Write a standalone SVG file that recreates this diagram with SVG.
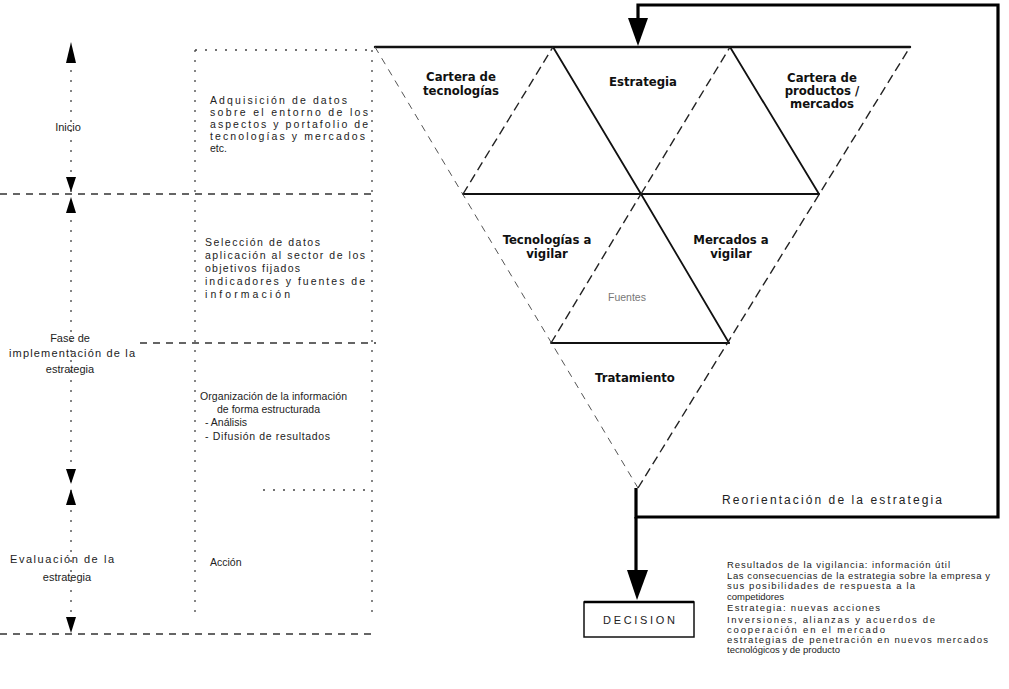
<svg xmlns="http://www.w3.org/2000/svg" width="1009" height="689" viewBox="0 0 1009 689">
  <style>
    .lbl { font-family: "Liberation Sans Narrow", "DejaVu Sans Condensed", "Liberation Sans", sans-serif; font-size: 13px; font-weight: bold; fill: #111; text-anchor: middle; }
    .side { font-family: "Liberation Sans", "DejaVu Sans", sans-serif; font-size: 11px; fill: #222; text-anchor: middle; }
    .note { font-family: "Liberation Sans", "DejaVu Sans", sans-serif; font-size: 10.5px; fill: #222; }
    .small { font-family: "Liberation Sans", "DejaVu Sans", sans-serif; font-size: 9.5px; fill: #222; }
    .solid { stroke: #111; stroke-width: 1.8; fill: none; stroke-linecap: round; }
    .edge { stroke: #111; stroke-width: 2.4; fill: none; stroke-linecap: round; }
    .dash { stroke: #222; stroke-width: 1.4; fill: none; stroke-dasharray: 9 5; }
    .faint { stroke: #555; stroke-width: 1; fill: none; stroke-dasharray: 7 6; }
    .dot { stroke: #444; stroke-width: 1.3; fill: none; stroke-dasharray: 2 8; }
    .sep { stroke: #333; stroke-width: 1.6; fill: none; stroke-dasharray: 7 6; }
    .thick { stroke: #000; stroke-width: 3.2; fill: none; stroke-linejoin: miter; }
    .head { fill: #000; }
  </style>

  <!-- left timeline: phase separators and frames -->
  <g id="phase-frames">
    <line class="sep" x1="0" y1="194" x2="376" y2="194"/>
    <line class="sep" x1="140" y1="343" x2="376" y2="343"/>
    <line class="sep" x1="0" y1="634" x2="376" y2="634"/>
    <line class="dot" x1="195" y1="50" x2="372" y2="50"/>
    <line class="dot" x1="195" y1="50" x2="195" y2="615"/>
    <line class="dot" x1="372" y1="50" x2="372" y2="620"/>
    <line class="dot" x1="263" y1="490" x2="370" y2="490"/>
  </g>

  <!-- left axis with phase arrowheads -->
  <g id="phase-axis">
    <line class="dot" x1="71" y1="60" x2="71" y2="630"/>
    <polygon class="head" points="71,42 66,63 76,63"/>
    <polygon class="head" points="71,192 66,177 76,177"/>
    <polygon class="head" points="71,197 66,213 76,213"/>
    <polygon class="head" points="71,484 66,469 76,469"/>
    <polygon class="head" points="71,489 66,505 76,505"/>
    <polygon class="head" points="71,633 66,617 76,617"/>
  </g>

  <g id="phase-1">
    <text class="side" x="68" y="131">Inicio</text>
  </g>
  <g id="phase-2">
    <text class="side" x="70" y="342">Fase de</text>
    <text class="side" x="72" y="357" textLength="126" lengthAdjust="spacing">implementación de la</text>
    <text class="side" x="70" y="373">estrategia</text>
  </g>
  <g id="phase-3">
    <text class="side" x="62" y="563" textLength="104" lengthAdjust="spacing">Evaluación de la</text>
    <text class="side" x="67" y="581">estrategia</text>
  </g>

  <g id="step-1">
    <text class="note" x="210" y="104" textLength="137" lengthAdjust="spacing">Adquisición de datos</text>
    <text class="note" x="210" y="116" textLength="158" lengthAdjust="spacing">sobre el entorno de los</text>
    <text class="note" x="210" y="128" textLength="158" lengthAdjust="spacing">aspectos y portafolio de</text>
    <text class="note" x="210" y="140" textLength="155" lengthAdjust="spacing">tecnologías y mercados</text>
    <text class="note" x="210" y="152">etc.</text>
  </g>
  <g id="step-2">
    <text class="note" x="205" y="246" textLength="115" lengthAdjust="spacing">Selección de datos</text>
    <text class="note" x="205" y="259" textLength="160" lengthAdjust="spacing">aplicación al sector de los</text>
    <text class="note" x="205" y="272" textLength="95" lengthAdjust="spacing">objetivos fijados</text>
    <text class="note" x="205" y="285" textLength="160" lengthAdjust="spacing">indicadores y fuentes de</text>
    <text class="note" x="205" y="298" textLength="85" lengthAdjust="spacing">información</text>
  </g>
  <g id="step-3">
    <text class="note" x="200" y="400" textLength="147" lengthAdjust="spacing">Organización de la información</text>
    <text class="note" x="217" y="413" textLength="103" lengthAdjust="spacing">de forma estructurada</text>
    <text class="note" x="205" y="426">- Análisis</text>
    <text class="note" x="205" y="440" textLength="125" lengthAdjust="spacing">- Difusión de resultados</text>
  </g>
  <g id="step-4">
    <text class="note" x="210" y="566">Acción</text>
  </g>

  <!-- inverted triangle of nine cells -->
  <g id="triangle-grid">
    <!-- horizontal rows -->
    <line class="edge" x1="375" y1="47" x2="910" y2="47"/>
    <line class="solid" x1="463" y1="194" x2="819" y2="194"/>
    <line class="solid" x1="551" y1="343" x2="729" y2="343"/>
    <!-- falling edges -->
    <line class="faint" x1="375" y1="47" x2="638" y2="488"/>
    <line class="solid" x1="553" y1="47" x2="641" y2="194"/>
    <line class="solid" x1="730" y1="47" x2="819" y2="194"/>
    <line class="solid" x1="641" y1="194" x2="729" y2="343"/>
    <!-- rising edges -->
    <line class="dash" x1="463" y1="194" x2="553" y2="47"/>
    <line class="dash" x1="641" y1="194" x2="730" y2="47"/>
    <line class="dash" x1="638" y1="488" x2="910" y2="47"/>
    <line class="dash" x1="551" y1="343" x2="641" y2="194"/>
  </g>

  <g id="cell-cartera-tecnologias">
    <text class="lbl" x="461" y="81">Cartera de</text>
    <text class="lbl" x="461" y="95">tecnologías</text>
  </g>
  <g id="cell-estrategia">
    <text class="lbl" x="643" y="86">Estrategia</text>
  </g>
  <g id="cell-cartera-productos">
    <text class="lbl" x="822" y="82">Cartera de</text>
    <text class="lbl" x="822" y="95">productos /</text>
    <text class="lbl" x="822" y="108">mercados</text>
  </g>
  <g id="cell-tecnologias-vigilar">
    <text class="lbl" x="547" y="244">Tecnologías a</text>
    <text class="lbl" x="547" y="258">vigilar</text>
  </g>
  <g id="cell-mercados-vigilar">
    <text class="lbl" x="731" y="244">Mercados a</text>
    <text class="lbl" x="731" y="258">vigilar</text>
  </g>
  <g id="cell-fuentes">
    <text class="note" x="627" y="301" text-anchor="middle" style="fill:#777">Fuentes</text>
  </g>
  <g id="cell-tratamiento">
    <text class="lbl" x="635" y="382">Tratamiento</text>
  </g>

  <!-- feedback loop and decision flow -->
  <g id="connectors">
    <polyline class="thick" points="636,488 636,517 998,517 998,5 638,5 638,20"/>
    <polygon class="head" points="638,46 628,18 648,18"/>
    <line class="thick" x1="636" y1="517" x2="636" y2="572"/>
    <polygon class="head" points="637,600 627,570 648,570"/>
  </g>

  <g id="feedback-label">
    <text class="side" x="832" y="504" textLength="220" lengthAdjust="spacing" style="font-size:12px">Reorientación de la estrategia</text>
  </g>

  <g id="decision">
    <rect x="584" y="602" width="110" height="35" fill="#fff" stroke="#111" stroke-width="1.5"/>
    <line x1="584" y1="602" x2="694" y2="602" stroke="#000" stroke-width="2.5"/>
    <text class="side" x="639" y="624" textLength="72" lengthAdjust="spacing">DECISION</text>
  </g>

  <g id="decision-notes">
    <text class="small" x="727" y="568" textLength="223" lengthAdjust="spacing">Resultados de la vigilancia: información útil</text>
    <text class="small" x="727" y="579" textLength="263" lengthAdjust="spacing">Las consecuencias de la estrategia sobre la empresa y</text>
    <text class="small" x="727" y="589" textLength="188" lengthAdjust="spacing">sus posibilidades de respuesta a la</text>
    <text class="small" x="727" y="600">competidores</text>
    <text class="small" x="727" y="611" textLength="153" lengthAdjust="spacing">Estrategia: nuevas acciones</text>
    <text class="small" x="727" y="623" textLength="208" lengthAdjust="spacing">Inversiones, alianzas y acuerdos de</text>
    <text class="small" x="727" y="633" textLength="158" lengthAdjust="spacing">cooperación en el mercado</text>
    <text class="small" x="727" y="643" textLength="261" lengthAdjust="spacing">estrategias de penetración en nuevos mercados</text>
    <text class="small" x="727" y="653">tecnológicos y de producto</text>
  </g>
</svg>
